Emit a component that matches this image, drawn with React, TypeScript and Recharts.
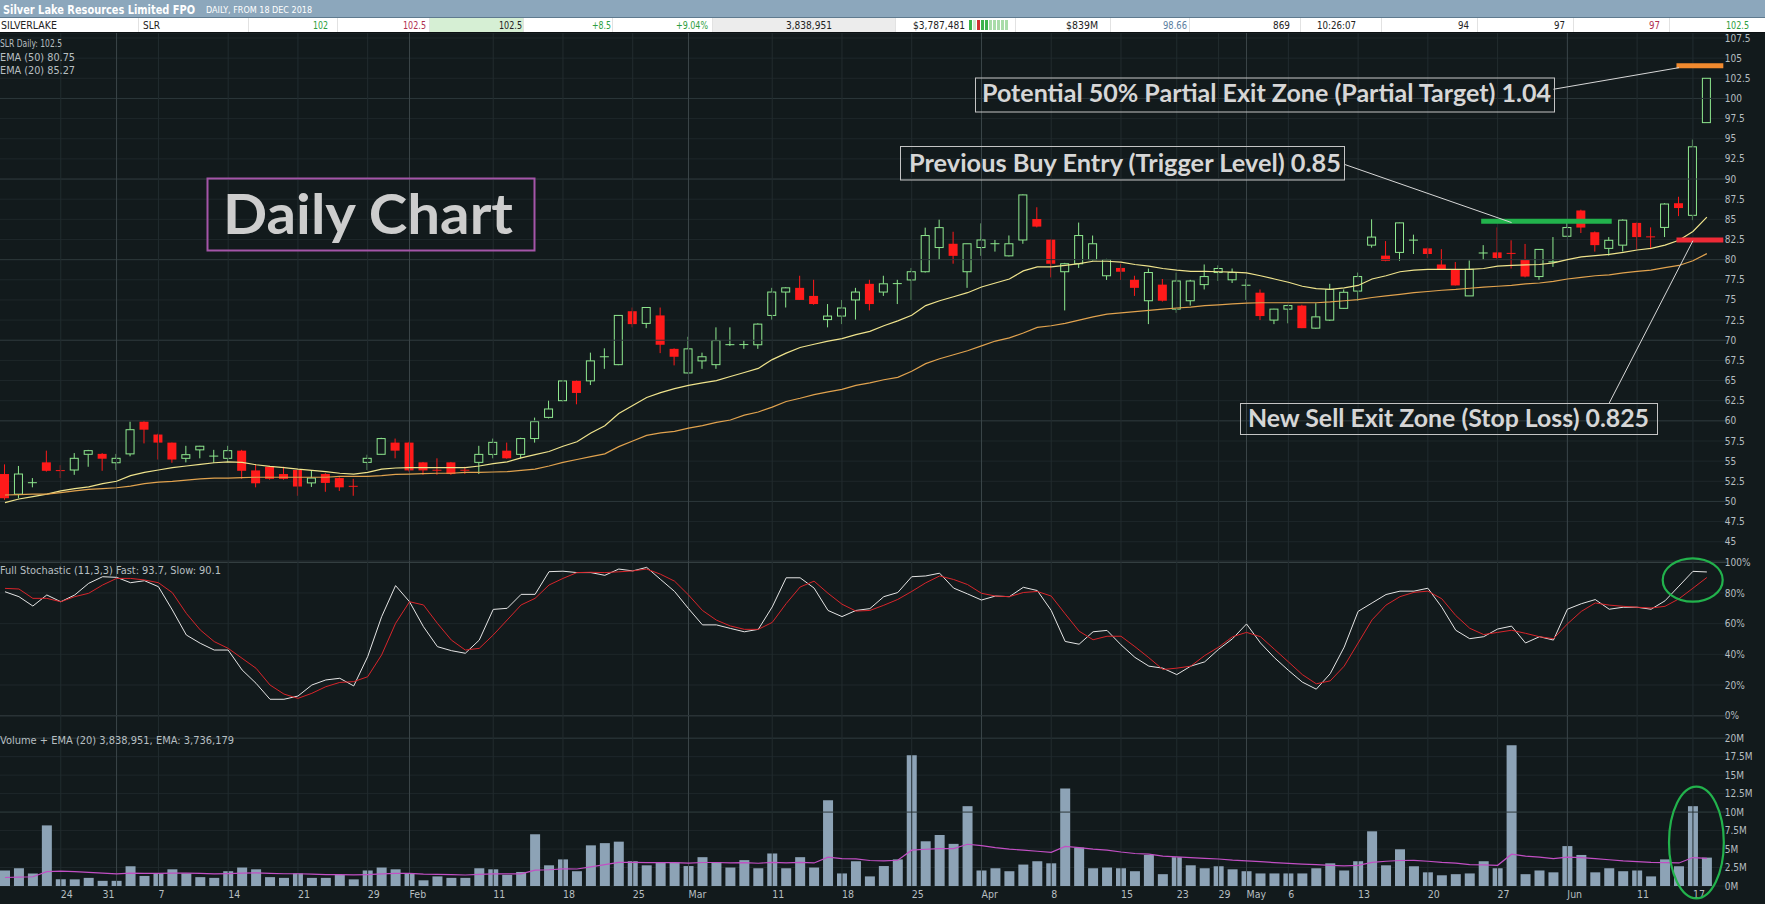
import React from 'react';
import { ComposedChart, Bar, Line, XAxis, YAxis, CartesianGrid, ReferenceLine } from 'recharts';

// daily candles, 18 Dec 2018 .. 18 Jun 2019 (cents)
const OPEN = [
  53.4, 50.9, 52.3, 54.85, 53.85, 53.9, 55.85, 55.9, 54.8, 55.9, 59.9, 58.3, 57.3, 55.35, 56.4, 55.6, 55.35, 56.3, 53.85, 54.3,
  53.4, 53.9, 52.3, 53.4, 52.9, 51.9, 54.85, 55.85, 57.3, 57.3, 54.85, 53.9, 54.85, 53.9, 54.85, 55.84, 56.3, 55.84, 57.8, 60.43,
  62.5, 64.96, 64.96, 67.9, 66.97, 73.6, 72.09, 73.08, 68.93, 65.94, 67.44, 66.97, 69.4, 69.44, 69.44, 73.08, 75.98, 76.5, 75.5, 72.56,
  73.0, 75.0, 77.0, 75.98, 77.0, 77.48, 78.5, 81.5, 81.97, 78.5, 81.5, 81.95, 80.47, 82.44, 85.04, 82.48, 78.5, 79.49, 80.0, 78.0,
  78.97, 77.5, 74.9, 76.9, 73.86, 74.9, 76.9, 78.4, 77.5, 76.8, 75.9, 72.5, 73.86, 74.3, 71.5, 72.5, 73.96, 76.1, 81.8, 80.5,
  80.9, 82.4, 81.4, 79.4, 78.8, 75.5, 80.8, 80.9, 80.8, 79.97, 77.9, 79.7, 82.9, 86.1, 83.4, 81.4, 81.8, 84.56, 82.85, 84.0,
  87.0, 85.5, 97.0,
];
const HIGH = [
  54.6, 54.4, 52.9, 56.3, 54.5, 56.0, 56.4, 56.0, 55.9, 59.9, 60.0, 58.4, 57.3, 56.9, 56.9, 56.4, 56.9, 56.4, 54.6, 54.4,
  54.3, 54.0, 53.9, 53.5, 53.0, 52.8, 55.8, 57.9, 57.8, 57.4, 54.9, 55.35, 54.9, 54.3, 56.9, 57.8, 57.3, 57.9, 60.4, 62.5,
  65.0, 65.0, 68.46, 69.0, 73.1, 74.06, 74.1, 74.06, 69.0, 70.43, 68.46, 71.6, 71.6, 69.96, 72.1, 76.5, 76.6, 78.0, 77.5, 74.49,
  75.0, 76.5, 77.5, 78.0, 77.5, 78.97, 83.97, 84.96, 83.46, 82.0, 84.5, 82.44, 83.0, 88.1, 86.5, 82.5, 79.6, 84.6, 82.99, 80.1,
  79.49, 78.0, 78.9, 77.6, 78.4, 77.5, 79.4, 79.3, 78.9, 77.6, 76.3, 73.9, 74.4, 74.4, 74.6, 77.0, 76.3, 78.4, 85.0, 82.3,
  84.6, 83.1, 81.5, 81.3, 79.7, 79.9, 81.8, 84.0, 82.4, 81.95, 81.3, 82.8, 84.9, 86.2, 83.5, 82.8, 85.0, 84.6, 84.0, 87.0,
  87.8, 94.9, 102.5,
];
const LOW = [
  50.2, 50.4, 51.75, 53.7, 52.9, 53.3, 54.3, 53.8, 53.9, 55.6, 57.2, 55.2, 54.8, 54.85, 55.35, 54.8, 54.85, 52.8, 51.75, 52.7,
  52.7, 50.7, 51.8, 51.2, 51.3, 50.7, 53.9, 55.8, 55.35, 53.7, 53.3, 53.3, 53.3, 53.4, 53.4, 55.35, 55.3, 55.35, 57.3, 60.3,
  62.4, 62.05, 64.44, 66.45, 66.9, 71.6, 71.5, 68.4, 66.88, 65.9, 66.45, 66.45, 69.3, 68.93, 68.93, 72.56, 74.06, 75.0, 74.4, 71.6,
  72.0, 72.56, 73.7, 75.5, 74.49, 75.0, 78.4, 80.0, 79.5, 76.5, 80.47, 81.0, 80.4, 81.97, 84.0, 77.8, 73.7, 78.97, 79.9, 77.48,
  77.48, 75.5, 72.0, 74.8, 73.4, 74.3, 76.3, 77.35, 77.1, 75.0, 72.5, 72.0, 72.1, 71.5, 71.4, 72.4, 73.9, 74.9, 81.5, 79.8,
  79.85, 80.7, 80.2, 78.8, 76.8, 75.5, 80.0, 80.0, 78.9, 77.8, 77.5, 79.1, 82.9, 83.3, 81.0, 80.5, 81.0, 81.3, 81.3, 82.8,
  85.4, 84.9, 97.0,
];
const CLOSE = [
  50.4, 53.4, 52.35, 53.8, 53.8, 55.35, 56.3, 55.3, 55.35, 58.9, 58.9, 57.3, 55.2, 55.8, 56.85, 55.65, 56.3, 53.8, 52.25, 52.8,
  52.8, 51.85, 52.9, 52.3, 51.75, 51.85, 55.35, 57.8, 56.3, 53.85, 53.85, 53.85, 53.4, 53.85, 55.84, 57.33, 55.35, 57.8, 59.9, 61.47,
  64.95, 63.46, 67.44, 68.0, 73.08, 72.0, 74.06, 69.44, 67.95, 68.93, 67.95, 69.96, 69.5, 69.48, 72.0, 75.98, 76.5, 75.0, 74.49, 73.0,
  74.0, 75.98, 74.49, 77.0, 77.05, 78.5, 82.99, 83.97, 80.47, 81.97, 82.44, 82.0, 81.97, 88.03, 84.1, 79.49, 79.49, 82.99, 81.97, 80.0,
  78.5, 76.5, 78.4, 74.9, 77.35, 77.35, 77.9, 78.9, 78.4, 76.85, 73.0, 73.86, 74.3, 71.5, 72.9, 76.3, 75.95, 77.9, 82.8, 79.85,
  84.56, 82.45, 80.7, 78.8, 76.8, 78.8, 80.85, 80.2, 80.75, 77.9, 81.27, 79.75, 83.98, 83.98, 81.8, 82.4, 84.9, 82.8, 82.8, 86.9,
  86.4, 94.0, 102.5,
];
const EMA20 = [
  49.85, 50.3, 50.6, 50.9, 51.3, 51.6, 51.8, 52.2, 52.5, 53.2, 53.6, 53.9, 54.2, 54.4, 54.6, 54.8, 54.9, 54.85, 54.55, 54.35,
  54.2, 54.0, 53.85, 53.7, 53.5, 53.4, 53.6, 54.0, 54.15, 54.2, 54.2, 54.2, 54.2, 54.2, 54.4, 54.7, 54.9, 55.4, 55.8, 56.2,
  56.85, 57.4, 58.5, 59.4, 60.9, 61.9, 62.9, 63.5, 64.0, 64.4, 64.7, 65.0, 65.5, 66.0, 66.5, 67.6, 68.4, 69.1, 69.5, 69.9,
  70.2, 70.7, 71.1, 71.8, 72.4, 73.1, 74.3, 74.9, 75.4, 75.9, 76.6, 77.1, 77.6, 78.6, 79.1, 79.1, 79.3, 79.5, 79.8, 79.8,
  79.7, 79.4, 79.2, 78.9, 78.7, 78.55, 78.55, 78.5, 78.45, 78.35, 78.0, 77.6, 77.2, 76.7, 76.4, 76.3, 76.5, 76.8, 77.6, 78.0,
  78.5, 78.7, 78.8, 78.8, 78.8, 78.8, 78.9, 79.2, 79.3, 79.35, 79.4, 79.6, 80.0, 80.35, 80.5, 80.65, 80.9, 81.2, 81.4, 81.8,
  82.4, 83.5, 85.27,
];
const EMA50 = [
  50.8, 50.84, 50.9, 50.9, 51.1, 51.3, 51.5, 51.6, 51.7, 51.9, 52.2, 52.4, 52.5, 52.65, 52.8, 52.9, 52.9, 52.95, 53.0, 53.0,
  53.0, 53.0, 53.0, 53.0, 53.1, 53.1, 53.1, 53.2, 53.35, 53.4, 53.45, 53.5, 53.5, 53.6, 53.6, 53.65, 53.7, 53.85, 54.0, 54.4,
  54.85, 55.2, 55.55, 55.9, 56.8, 57.5, 58.2, 58.5, 58.7, 59.1, 59.4, 59.8, 60.1, 60.7, 61.1, 61.7, 62.4, 62.8, 63.25, 63.6,
  63.9, 64.4, 64.7, 65.1, 65.4, 66.15, 67.1, 67.7, 68.2, 68.7, 69.3, 69.9, 70.3, 70.9, 71.6, 71.8, 72.1, 72.5, 72.9, 73.25,
  73.4, 73.55, 73.7, 73.85, 74.0, 74.1, 74.3, 74.4, 74.5, 74.6, 74.65, 74.65, 74.65, 74.65, 74.65, 74.75, 74.9, 75.05, 75.3, 75.5,
  75.7, 75.9, 76.05, 76.2, 76.3, 76.45, 76.6, 76.7, 76.8, 77.0, 77.1, 77.3, 77.6, 77.8, 78.0, 78.1, 78.35, 78.55, 78.7, 79.0,
  79.28, 79.86, 80.75,
];
const STOCH_FAST = [
  80.8, 77.6, 71.5, 78.7, 74.3, 78.7, 86.3, 90.6, 90.2, 86.7, 88.0, 84.1, 68.9, 52.6, 47.2, 42.8, 42.8, 29.8, 21.1, 10.7,
  10.7, 12.8, 20.0, 23.3, 24.4, 19.4, 38.5, 64.5, 84.8, 74.3, 58.0, 45.0, 42.4, 40.7, 49.3, 69.3, 70.0, 79.1, 79.1, 93.9,
  94.2, 93.3, 93.3, 91.5, 95.6, 94.4, 96.7, 88.8, 81.0, 69.8, 59.2, 59.2, 56.9, 54.7, 56.3, 70.9, 89.9, 89.9, 83.2, 68.6,
  64.6, 68.6, 69.8, 77.6, 80.3, 90.6, 91.1, 92.9, 83.2, 79.4, 75.4, 78.0, 77.6, 83.7, 81.6, 68.6, 48.4, 46.6, 54.7, 55.6,
  46.2, 38.0, 32.3, 31.0, 26.8, 32.3, 35.1, 43.3, 50.2, 59.8, 47.4, 37.8, 29.6, 21.9, 17.3, 27.4, 44.7, 68.0, 73.5, 79.0,
  81.2, 81.2, 83.1, 70.7, 55.7, 50.2, 51.5, 56.5, 58.4, 47.4, 51.5, 49.3, 69.4, 73.0, 75.7, 69.4, 70.7, 70.7, 69.4, 74.9,
  84.5, 94.1, 93.7,
];
const STOCH_SLOW = [
  83.0, 82.6, 76.5, 76.5, 74.3, 77.6, 79.8, 85.2, 89.5, 89.5, 88.5, 86.7, 80.2, 66.7, 55.9, 48.3, 43.9, 37.4, 30.9, 20.0,
  14.1, 11.3, 14.6, 18.9, 21.7, 22.2, 25.4, 39.6, 60.2, 74.3, 72.2, 60.2, 49.3, 42.8, 43.9, 52.6, 62.4, 72.2, 76.5, 85.2,
  89.5, 93.3, 93.5, 93.3, 93.8, 94.4, 95.6, 92.2, 87.7, 78.7, 68.6, 62.3, 58.5, 56.3, 56.3, 60.8, 73.1, 83.9, 87.7, 79.8,
  72.7, 68.2, 68.6, 72.0, 75.8, 81.0, 86.6, 91.1, 88.8, 85.5, 79.8, 78.0, 77.6, 80.3, 81.0, 78.0, 66.4, 55.1, 49.5, 51.8,
  51.8, 45.0, 37.8, 30.1, 31.0, 32.3, 39.2, 44.7, 51.5, 54.3, 51.5, 43.3, 35.1, 26.8, 20.8, 22.7, 32.3, 47.4, 62.5, 72.1,
  77.6, 80.4, 81.2, 76.2, 65.3, 57.0, 52.9, 54.3, 55.7, 53.7, 51.5, 50.2, 59.8, 68.0, 73.5, 72.1, 71.3, 70.7, 70.2, 71.3,
  76.2, 83.1, 90.1,
];
// millions of shares
const VOLUME = [
  2.1, 2.4, 1.7, 8.2, 0.9, 0.9, 1.1, 0.7, 0.7, 2.67, 1.36, 1.7, 2.26, 1.7, 1.2, 1.1, 2.0, 2.5, 2.26, 1.2,
  1.1, 1.7, 1.1, 1.1, 1.5, 0.9, 2.1, 2.5, 2.26, 1.7, 0.77, 1.3, 1.1, 1.1, 2.4, 2.26, 1.5, 1.9, 7.0, 2.8,
  3.6, 2.0, 5.5, 5.8, 6.0, 3.35, 2.8, 3.2, 3.2, 2.7, 3.9, 3.2, 2.5, 3.5, 2.4, 4.4, 2.4, 3.9, 2.5, 11.6,
  1.7, 3.35, 1.3, 2.7, 3.6, 17.7, 6.05, 6.9, 5.7, 10.8, 2.1, 2.4, 2.0, 2.9, 3.35, 3.07, 13.2, 5.2, 2.4, 2.5,
  2.4, 2.0, 4.2, 1.6, 3.9, 2.8, 2.4, 2.67, 2.26, 2.0, 1.7, 1.7, 1.7, 1.7, 2.4, 3.07, 2.1, 3.35, 7.4, 2.8,
  4.97, 2.67, 1.85, 1.45, 1.6, 1.7, 3.35, 2.4, 19.05, 1.6, 2.1, 1.85, 5.4, 4.2, 1.85, 2.4, 2.0, 2.1, 1.3, 3.6,
  2.67, 10.8, 3.84,
];
const VOLUME_EMA = [
  1.15, 1.2, 1.25, 1.95, 2.0, 1.95, 1.85, 1.75, 1.65, 1.75, 1.72, 1.72, 1.75, 1.75, 1.7, 1.65, 1.68, 1.75, 1.78, 1.72,
  1.66, 1.66, 1.6, 1.55, 1.55, 1.5, 1.55, 1.64, 1.7, 1.7, 1.6, 1.58, 1.53, 1.49, 1.58, 1.65, 1.63, 1.65, 2.15, 2.2,
  2.33, 2.3, 2.6, 2.9, 3.2, 3.2, 3.15, 3.15, 3.15, 3.1, 3.18, 3.18, 3.12, 3.15, 3.08, 3.2, 3.12, 3.2, 3.12, 3.9,
  3.7, 3.68, 3.45, 3.39, 3.48, 4.85, 4.97, 5.06, 5.06, 5.65, 5.45, 5.2, 5.0, 4.85, 4.7, 4.55, 5.35, 5.2, 5.0, 4.85,
  4.6, 4.4, 4.3, 4.05, 3.95, 3.85, 3.75, 3.65, 3.5, 3.4, 3.3, 3.16, 3.05, 2.95, 2.88, 2.8, 2.72, 2.78, 3.2, 3.35,
  3.45, 3.48, 3.35, 3.2, 3.1, 2.9, 2.85, 2.8, 4.3, 4.05, 3.9, 3.7, 3.9, 3.85, 3.7, 3.55, 3.4, 3.3, 3.2, 3.15,
  3.12, 3.85, 3.74,
];

const TICK_IDX = [4, 7, 11, 16, 21, 26, 29, 35, 40, 45, 49, 55, 60, 65, 70, 75, 80, 84, 87, 89, 92, 97, 102, 107, 112, 117, 121];
const TICK_TEXT = ['24', '31', '7', '14', '21', '29', 'Feb', '11', '18', '25', 'Mar', '11', '18', '25', 'Apr', '8', '15', '23', '29', 'May', '6', '13', '20', '27', 'Jun', '11', '17'];
const MONTH_IDX = [8, 29, 49, 70, 89, 112];

const PRICE_TICKS = [45, 47.5, 50, 52.5, 55, 57.5, 60, 62.5, 65, 67.5, 70, 72.5, 75, 77.5, 80, 82.5, 85, 87.5, 90, 92.5, 95, 97.5, 100, 102.5, 105, 107.5];
const PRICE_MAJOR = [50, 60, 70, 80, 90, 100];
const STOCH_TICKS = [0, 20, 40, 60, 80, 100];
const VOL_TICKS = [0, 2.5, 5, 7.5, 10, 12.5, 15, 17.5, 20];

const BG = '#121a1c';
const GRID = '#1e272a';
const GRID_MAJOR = '#2c373a';
const VLINE = '#222c2f';
const VLINE_MONTH = '#3b4649';
const TEXT = '#b7bfc1';
const GREEN = '#8fe98f';
const RED = '#ff1a1a';
const CIRCLE = '#22b24c';
const FONT = "'Liberation Sans Narrow', 'DejaVu Sans Condensed', 'Liberation Sans', sans-serif";

const BAND = 13.95;
const SLOTS = OPEN.length + 1;
const PLOT_W = BAND * SLOTS;
const AXIS_W = 40;
const CHART_W = PLOT_W + AXIS_W;
const CHART_LEFT = 5 - BAND / 2;
const PAD = 10; // room above/below panels so edge tick labels are not clipped

const key = (i: number) => 'd' + i;

const rows: any[] = OPEN.map((o, i) => ({
  k: key(i),
  o,
  h: HIGH[i],
  l: LOW[i],
  c: CLOSE[i],
  ema20: EMA20[i],
  ema50: EMA50[i],
  fast: STOCH_FAST[i],
  slow: STOCH_SLOW[i],
  v: VOLUME[i],
  vema: VOLUME_EMA[i],
}));
rows.push({ k: key(OPEN.length) });

const labelAt = new Map(TICK_IDX.map((i, n) => [i, TICK_TEXT[n]]));
const weekIdx = TICK_IDX.filter((i) => i !== 7 && !MONTH_IDX.includes(i));

const candleRange = (d: any) => (d.h == null ? null : [d.l, d.h]);

const Candle = (props: any) => {
  const { x, y, width, height, payload } = props;
  if (!payload || payload.o == null || !isFinite(y) || !isFinite(height)) return <g />;
  const { o, h, l, c } = payload;
  const top = Math.min(y, y + height);
  const span = Math.abs(height);
  const py = (v: number) => top + ((h - v) / (h - l)) * span;
  const cx = x + width / 2;
  const up = c >= o;
  const color = up ? GREEN : RED;
  const bTop = py(Math.max(o, c));
  const bBot = py(Math.min(o, c));
  const bodyH = bBot - bTop;
  if (bodyH < 1.2) {
    const mid = (bTop + bBot) / 2;
    return (
      <g>
        <line x1={cx} x2={cx} y1={py(h)} y2={py(l)} stroke={color} />
        <line x1={x} x2={x + width} y1={mid} y2={mid} stroke={color} />
      </g>
    );
  }
  if (up) {
    return (
      <g>
        <line x1={cx} x2={cx} y1={py(h)} y2={bTop} stroke={color} />
        <line x1={cx} x2={cx} y1={bBot} y2={py(l)} stroke={color} />
        <rect x={x + 0.5} y={bTop} width={width - 1} height={bodyH} fill={BG} stroke={color} />
      </g>
    );
  }
  return (
    <g>
      <line x1={cx} x2={cx} y1={py(h)} y2={py(l)} stroke={color} />
      <rect x={x} y={bTop} width={width} height={bodyH} fill={color} />
    </g>
  );
};

const DateTick = (props: any) => {
  const { x, y, payload } = props;
  const label = labelAt.get(payload.index);
  if (!label) return <g />;
  return (
    <text x={x} y={y + 8} fill={TEXT} fontSize={10.5} fontFamily={FONT} textAnchor="start" dominantBaseline="central">
      {label}
    </text>
  );
};

const axisTick = { fill: TEXT, fontSize: 10, fontFamily: FONT, dx: -3 };

const verticalLines = () => [
  ...weekIdx.map((i) => <ReferenceLine key={'w' + i} x={key(i)} stroke={VLINE} />),
  ...MONTH_IDX.map((i) => <ReferenceLine key={'m' + i} x={key(i)} stroke={VLINE_MONTH} />),
];

const Txt = ({ x, y, w, size = 10, color = TEXT, anchor = 'start', bold = false, children }: any) => (
  <text
    x={x}
    y={y}
    fontSize={size}
    fontFamily={FONT}
    fontWeight={bold ? 700 : 400}
    fill={color}
    textAnchor={anchor}
    dominantBaseline="central"
    textLength={w}
    lengthAdjust="spacingAndGlyphs"
  >
    {children}
  </text>
);

const NOTE_FONT = "Lato, 'Open Sans', 'Noto Sans', sans-serif";

const Note = ({ x, y, w, h, tx, base, tw, size, children }: any) => (
  <g>
    <rect x={x} y={y} width={w} height={h} fill="none" stroke="#c4c4c4" strokeWidth={1} />
    <text
      x={tx}
      y={base}
      fontSize={size}
      fontFamily={NOTE_FONT}
      fontWeight={700}
      fill="#d6d6d6"
      textLength={tw}
      lengthAdjust="spacingAndGlyphs"
    >
      {children}
    </text>
  </g>
);

const HEADER_BARS = ['#3cb44b', '#cfe8cf', '#d03030', '#3cb44b', '#3cb44b', '#a9dca9', '#a9dca9', '#a9dca9', '#a9dca9', '#a9dca9'];
const HEADER_DIVIDERS = [138, 248, 337, 429, 523, 612, 712, 895, 1015, 1110, 1189, 1300, 1381, 1477, 1573, 1669];

export default function App() {
  return (
    <div style={{ position: 'fixed', left: 0, top: 0, width: 1765, height: 904, background: BG, overflow: 'hidden' }}>
      {/* price panel: plot 33..561 */}
      <div style={{ position: 'absolute', left: CHART_LEFT, top: 33 }}>
        <ComposedChart width={CHART_W} height={528} data={rows} margin={{ top: 0, right: 0, bottom: 0, left: 0 }}>
          <CartesianGrid vertical={false} stroke={GRID} />
          <XAxis dataKey="k" scale="band" hide />
          <YAxis
            orientation="right"
            type="number"
            domain={[42.61, 108.12]}
            allowDataOverflow
            ticks={PRICE_TICKS}
            interval={0}
            width={AXIS_W}
            axisLine={false}
            tickLine={false}
            tickSize={0}
            tickMargin={0}
            tick={axisTick}
          />
          {PRICE_MAJOR.map((p) => (
            <ReferenceLine key={'p' + p} y={p} stroke={GRID_MAJOR} />
          ))}
          {verticalLines()}
          <Bar dataKey={candleRange} barSize={9} shape={Candle} isAnimationActive={false} />
          <Line dataKey="ema20" stroke="#efe38c" strokeWidth={1.2} dot={false} activeDot={false} isAnimationActive={false} />
          <Line dataKey="ema50" stroke="#e0a24e" strokeWidth={1.2} dot={false} activeDot={false} isAnimationActive={false} />
          <ReferenceLine segment={[{ x: key(106), y: 84.75 }, { x: key(115), y: 84.75 }]} stroke="#22b24c" strokeWidth={5} strokeLinecap="square" ifOverflow="visible" />
          <ReferenceLine segment={[{ x: key(120), y: 104.05 }, { x: key(123), y: 104.05 }]} stroke="#f28a2e" strokeWidth={5} strokeLinecap="square" ifOverflow="visible" />
          <ReferenceLine segment={[{ x: key(120), y: 82.44 }, { x: key(123), y: 82.44 }]} stroke="#ee2a36" strokeWidth={5} strokeLinecap="square" ifOverflow="visible" />
          <ReferenceLine segment={[{ x: key(111), y: 101.14 }, { x: key(120), y: 103.82 }]} stroke="#d8d8d8" ifOverflow="visible" />
          <ReferenceLine segment={[{ x: key(96), y: 91.83 }, { x: key(108), y: 84.6 }]} stroke="#d8d8d8" ifOverflow="visible" />
          <ReferenceLine segment={[{ x: key(115), y: 62.21 }, { x: key(121), y: 82.35 }]} stroke="#d8d8d8" ifOverflow="visible" />
        </ComposedChart>
      </div>

      {/* stochastic panel: plot 561..716 */}
      <div style={{ position: 'absolute', left: CHART_LEFT, top: 561 - PAD }}>
        <ComposedChart width={CHART_W} height={155 + 2 * PAD} data={rows} margin={{ top: PAD, right: 0, bottom: PAD, left: 0 }}>
          <CartesianGrid vertical={false} stroke={GRID} />
          <XAxis dataKey="k" scale="band" hide />
          <YAxis
            orientation="right"
            type="number"
            domain={[-0.2, 100.85]}
            allowDataOverflow
            ticks={STOCH_TICKS}
            interval={0}
            width={AXIS_W}
            axisLine={false}
            tickLine={false}
            tickSize={0}
            tickMargin={0}
            tick={axisTick}
            tickFormatter={(v: number) => v + '%'}
          />
          <ReferenceLine y={100} stroke="#3a4548" />
          <ReferenceLine y={0} stroke="#3a4548" />
          {verticalLines()}
          <Line dataKey="fast" stroke="#e6e6e6" strokeWidth={1} dot={false} activeDot={false} isAnimationActive={false} />
          <Line dataKey="slow" stroke="#d9252b" strokeWidth={1} dot={false} activeDot={false} isAnimationActive={false} />
        </ComposedChart>
      </div>

      {/* volume panel: plot 716..886, dates below */}
      <div style={{ position: 'absolute', left: CHART_LEFT, top: 716 - PAD }}>
        <ComposedChart width={CHART_W} height={188 + PAD} data={rows} margin={{ top: PAD, right: 0, bottom: 0, left: 0 }}>
          <CartesianGrid vertical={false} stroke={GRID} />
          <XAxis
            dataKey="k"
            scale="band"
            height={18}
            interval={0}
            axisLine={false}
            tickLine={false}
            tickSize={0}
            tickMargin={0}
            tick={<DateTick />}
          />
          <YAxis
            orientation="right"
            type="number"
            domain={[0, 23]}
            allowDataOverflow
            ticks={VOL_TICKS}
            interval={0}
            width={AXIS_W}
            axisLine={false}
            tickLine={false}
            tickSize={0}
            tickMargin={0}
            tick={axisTick}
            tickFormatter={(v: number) => v + 'M'}
          />
          <ReferenceLine y={10} stroke={GRID_MAJOR} />
          <ReferenceLine y={20} stroke={GRID_MAJOR} />
          {verticalLines()}
          <Bar dataKey="v" barSize={10} fill="#8da3b6" isAnimationActive={false} />
          <Line dataKey="vema" stroke="#c24fc4" strokeWidth={1.2} dot={false} activeDot={false} isAnimationActive={false} />
        </ComposedChart>
      </div>

      {/* header, legends and notes */}
      <svg width={1765} height={904} style={{ position: 'absolute', left: 0, top: 0, pointerEvents: 'none' }}>
        <rect x={0} y={0} width={1765} height={18} fill="#8ca7bc" />
        <rect x={0} y={17} width={1765} height={1} fill="#5f7a8e" />
        <Txt x={3} y={9.5} w={192} size={12} color="#ffffff" bold>
          Silver Lake Resources Limited FPO
        </Txt>
        <Txt x={206} y={10} w={106} size={8} color="#ffffff">
          DAILY, FROM 18 DEC 2018
        </Txt>
        <rect x={0} y={18} width={1765} height={14} fill="#ffffff" />
        <rect x={429} y={18} width={94} height={14} fill="#d6efd4" />
        <rect x={712} y={18} width={183} height={14} fill="#ececec" />
        {HEADER_DIVIDERS.map((d) => (
          <rect key={d} x={d} y={18} width={1} height={14} fill="#e2e2e2" />
        ))}
        {HEADER_BARS.map((c, n) => (
          <rect key={n} x={969 + n * 4} y={20} width={3} height={10} fill={c} />
        ))}
        <rect x={0} y={32} width={1765} height={1} fill="#0b1012" />
        <Txt x={1} y={25.5} w={56} color="#222222">SILVERLAKE</Txt>
        <Txt x={143} y={25.5} w={17} color="#222222">SLR</Txt>
        <Txt x={328} y={25.5} w={15} color="#2e9e3e" anchor="end">102</Txt>
        <Txt x={426} y={25.5} w={23} color="#b03050" anchor="end">102.5</Txt>
        <Txt x={522} y={25.5} w={23} color="#222222" anchor="end">102.5</Txt>
        <Txt x={611} y={25.5} w={19} color="#2e9e3e" anchor="end">+8.5</Txt>
        <Txt x={708} y={25.5} w={32} color="#2e9e3e" anchor="end">+9.04%</Txt>
        <Txt x={832} y={25.5} w={46} color="#222222" anchor="end">3,838,951</Txt>
        <Txt x={965} y={25.5} w={52} color="#222222" anchor="end">$3,787,481</Txt>
        <Txt x={1098} y={25.5} w={32} color="#222222" anchor="end">$839M</Txt>
        <Txt x={1187} y={25.5} w={24} color="#5a7ea0" anchor="end">98.66</Txt>
        <Txt x={1290} y={25.5} w={17} color="#222222" anchor="end">869</Txt>
        <Txt x={1317} y={25.5} w={39} color="#222222">10:26:07</Txt>
        <Txt x={1469} y={25.5} w={11} color="#222222" anchor="end">94</Txt>
        <Txt x={1565} y={25.5} w={11} color="#222222" anchor="end">97</Txt>
        <Txt x={1660} y={25.5} w={11} color="#b03050" anchor="end">97</Txt>
        <Txt x={1749} y={25.5} w={23} color="#2e9e3e" anchor="end">102.5</Txt>

        <Txt x={0} y={43.3} w={62}>SLR Daily: 102.5</Txt>
        <Txt x={0} y={57.7} w={75}>EMA (50) 80.75</Txt>
        <Txt x={0} y={70} w={75}>EMA (20) 85.27</Txt>
        <Txt x={0} y={570} w={221}>Full Stochastic (11,3,3) Fast: 93.7, Slow: 90.1</Txt>
        <Txt x={0} y={740} w={234}>Volume + EMA (20) 3,838,951, EMA: 3,736,179</Txt>

        <rect x={207.5} y={178.5} width={327} height={72} fill="none" stroke="#a455a8" strokeWidth={2} />
        <text
          x={223}
          y={234}
          fontSize={56}
          fontFamily={NOTE_FONT}
          fontWeight={700}
          fill="#cdcdcd"
          textLength={290}
          lengthAdjust="spacingAndGlyphs"
        >
          Daily Chart
        </text>
        <Note x={975.5} y={78} w={579} h={34} tx={982} base={102} tw={569} size={24}>
          Potential 50% Partial Exit Zone (Partial Target) 1.04
        </Note>
        <Note x={900.5} y={146.5} w={444} h={33.5} tx={909} base={171.5} tw={432} size={24}>
          Previous Buy Entry (Trigger Level) 0.85
        </Note>
        <Note x={1240.5} y={403.5} w={417} h={31} tx={1248} base={427} tw={401} size={24}>
          New Sell Exit Zone (Stop Loss) 0.825
        </Note>

        <ellipse cx={1692.7} cy={580} rx={30} ry={21.7} fill="none" stroke={CIRCLE} strokeWidth={2.2} />
        <ellipse cx={1696.4} cy={842.5} rx={27.4} ry={55.8} fill="none" stroke={CIRCLE} strokeWidth={2.2} />
      </svg>
    </div>
  );
}
